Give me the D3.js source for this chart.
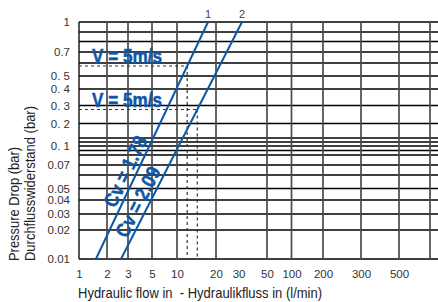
<!DOCTYPE html>
<html>
<head>
<meta charset="utf-8">
<script src="https://cdn.jsdelivr.net/npm/d3@7"></script>
<style>
  body { margin: 0; background: #fff; }
  text { font-family: "Liberation Sans", Arial, sans-serif; white-space: pre; }
</style>
</head>
<body>
<div id="chart"></div>
<script>
// axis grid values (l/min and bar)
const flowGrid = [1, 2, 3, 5, 10, 20, 50, 100, 200, 300, 500, 1000];
const flowTicks = [1, 2, 3, 5, 10, 20, 30, 50, 100, 200, 300, 500];
const pressureGrid = [0.01, 0.02, 0.03, 0.04, 0.05, 0.06, 0.07, 0.08, 0.09, 0.1, 0.11, 0.13, 0.2, 0.3, 0.4, 0.5, 0.6, 0.7, 0.8, 0.9, 1];
const pressureTicks = [0.01, 0.02, 0.03, 0.04, 0.05, 0.07, 0.1, 0.2, 0.3, 0.4, 0.5, 0.7, 1];
const pressureTickLabels = ["0.01", "0.02", "0.03", "0.04", "0.05", "0.07", "0. 1", "0. 2", "0. 3", "0. 4", "0. 5", "0.7", "1"];

// curves: flow at the ends of each line, pressure 0.01 -> 1 bar
const curveNames = ["1", "2"];
const cvLabels = ["Cv = 1.78", "Cv = 2.09"];
const curveFlow = [[1.52, 17.35], [2.62, 31.9]];
const curvePressure = [0.01, 1];
const vLabel = "V = 5m/s";
const vPressure = [0.575, 0.274];

const blue = "#0b58a6";
const margin = { top: 22, left: 79 };
const width = 438 - margin.left;
const height = 237;

const svg = d3.select("#chart").append("svg")
    .attr("width", 438)
    .attr("height", 302);

// the printed scales are not clean log scales, so calibrate them piecewise
const x = d3.scaleLog()
    .domain(flowGrid)
    .range([0, 28, 49, 73, 98, 137, 188, 212.5, 244, 282, 320, 351]);

const y = d3.scaleLog()
    .domain(pressureGrid)
    .range([237, 208, 192, 178, 166.5, 153, 143, 133, 128.5, 124, 120, 116, 101.5, 83.5, 67, 54, 41, 30, 19.5, 10, 0]);

const g = svg.append("g")
    .attr("transform", `translate(${margin.left}, ${margin.top})`);

// horizontal grid
g.append("g").selectAll("line")
    .data(pressureGrid)
    .join("line")
    .attr("x1", 0).attr("x2", width)
    .attr("y1", d => y(d)).attr("y2", d => y(d))
    .attr("stroke", "#000")
    .attr("stroke-width", 1.3);

// vertical grid
g.append("g").selectAll("line")
    .data(flowGrid.slice(1))
    .join("line")
    .attr("x1", d => x(d)).attr("x2", d => x(d))
    .attr("y1", 0).attr("y2", height)
    .attr("stroke", "#4a4a4a")
    .attr("stroke-width", 1.7);

// left border
g.append("line")
    .attr("x1", 0).attr("x2", 0)
    .attr("y1", 0).attr("y2", height)
    .attr("stroke", "#111")
    .attr("stroke-width", 1.4);

// axes (labels only)
const xAxis = d3.axisBottom(x)
    .tickValues(flowTicks)
    .tickFormat(d3.format("~g"))
    .tickSize(0)
    .tickPadding(11);
const yAxis = d3.axisLeft(y)
    .tickValues(pressureTicks)
    .tickFormat((d, i) => pressureTickLabels[i])
    .tickSize(0)
    .tickPadding(9);

const gx = g.append("g")
    .attr("transform", `translate(0, ${height})`)
    .call(xAxis);
const gy = g.append("g").call(yAxis);
[gx, gy].forEach(a => {
    a.select(".domain").remove();
    a.selectAll("text")
        .attr("fill", "#333")
        .style("font-size", "11.5px")
        .style("font-family", '"Liberation Sans", Arial, sans-serif');
});

const line = d3.line()
    .x(d => x(d[0]))
    .y(d => y(d[1]));

// V = 5m/s markers
curveFlow.forEach((flows, i) => {
    const pts = flows.map((f, j) => [f, curvePressure[j]]);
    const x0 = x(pts[0][0]), y0 = y(pts[0][1]);
    const x1 = x(pts[1][0]), y1 = y(pts[1][1]);
    const yv = y(vPressure[i]);
    const xv = x0 + (x1 - x0) * (yv - y0) / (y1 - y0);

    g.append("line")
        .attr("x1", 0).attr("x2", xv)
        .attr("y1", yv).attr("y2", yv)
        .attr("stroke", "#333")
        .attr("stroke-width", 1)
        .attr("stroke-dasharray", "3,3");
    g.append("line")
        .attr("x1", xv).attr("x2", xv)
        .attr("y1", yv).attr("y2", height)
        .attr("stroke", "#333")
        .attr("stroke-width", 1.2)
        .attr("stroke-dasharray", "3,3");

    g.append("text")
        .attr("x", 13)
        .attr("y", yv - 3)
        .attr("fill", blue)
        .attr("stroke", blue)
        .attr("stroke-width", 0.5)
        .style("font-size", "21px")
        .style("font-weight", "bold")
        .attr("textLength", 70)
        .attr("lengthAdjust", "spacingAndGlyphs")
        .text(vLabel);
});

// curves
curveFlow.forEach((flows, i) => {
    const pts = flows.map((f, j) => [f, curvePressure[j]]);
    g.append("path")
        .datum(pts)
        .attr("d", line)
        .attr("fill", "none")
        .attr("stroke", blue)
        .attr("stroke-width", 2);

    const x0 = x(pts[0][0]), y0 = y(pts[0][1]);
    const x1 = x(pts[1][0]), y1 = y(pts[1][1]);
    const angle = Math.atan2(y1 - y0, x1 - x0) * 180 / Math.PI;

    // curve number above the top end
    g.append("text")
        .attr("x", x1)
        .attr("y", y1 - 4)
        .attr("text-anchor", "middle")
        .attr("fill", "#444")
        .style("font-size", "11px")
        .text(curveNames[i]);

    // Cv label along the line
    const t = i === 0 ? 0.35 : 0.22;
    const cx = x0 + (x1 - x0) * t, cy = y0 + (y1 - y0) * t;
    g.append("text")
        .attr("transform", `translate(${cx}, ${cy}) rotate(${angle})`)
        .attr("dy", -4)
        .attr("text-anchor", "middle")
        .attr("fill", blue)
        .attr("stroke", blue)
        .attr("stroke-width", 0.4)
        .style("font-size", "20px")
        .style("font-weight", "bold")
        .attr("textLength", 76)
        .attr("lengthAdjust", "spacingAndGlyphs")
        .text(cvLabels[i]);
});

// axis titles
svg.append("text")
    .attr("transform", "translate(19, 261) rotate(-90)")
    .attr("fill", "#222")
    .style("font-size", "14px")
    .attr("textLength", 114)
    .attr("lengthAdjust", "spacingAndGlyphs")
    .text("Pressure Drop (bar)");
svg.append("text")
    .attr("transform", "translate(35, 261) rotate(-90)")
    .attr("fill", "#222")
    .style("font-size", "14px")
    .attr("textLength", 155)
    .attr("lengthAdjust", "spacingAndGlyphs")
    .text("Durchflusswiderstand (bar)");
svg.append("text")
    .attr("x", 78)
    .attr("y", 298)
    .attr("fill", "#222")
    .style("font-size", "14.5px")
    .attr("textLength", 244)
    .attr("lengthAdjust", "spacingAndGlyphs")
    .text("Hydraulic flow in  - Hydraulikfluss in (l/min)");
</script>
</body>
</html>
